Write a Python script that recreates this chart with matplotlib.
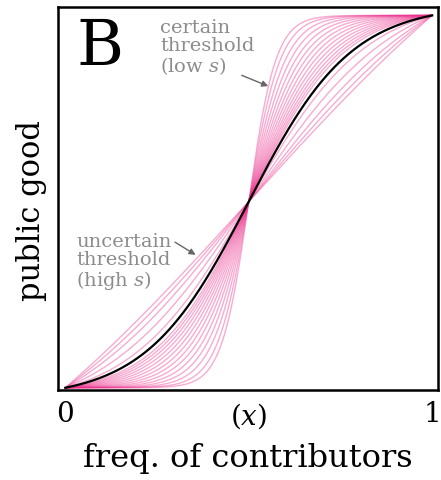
import numpy as np
import matplotlib
matplotlib.use("Agg")
import matplotlib.pyplot as plt

# Threshold position and spread values s of the curve family
threshold = 0.5
spreads = [0.037, 0.043, 0.050, 0.057, 0.064, 0.071, 0.078, 0.085, 0.092,
           0.099, 0.106, 0.113, 0.120, 0.127, 0.160, 0.200, 0.260, 0.340, 0.500]
highlight_spread = 0.14

xtick_pos = [0.0, 0.5, 1.0]
xtick_labels = ["0", r"$(x)$", "1"]


def public_good(x, h, s):
    sig = lambda z: 1.0 / (1.0 + np.exp(-(z - h) / s))
    return (sig(x) - sig(0.0)) / (sig(1.0) - sig(0.0))


plt.rcParams["font.family"] = ["DejaVu Serif"]
plt.rcParams["mathtext.fontset"] = "dejavuserif"

fig = plt.figure(figsize=(4.41, 4.80), dpi=100)
ax = fig.add_axes([0.1315, 0.1875, 0.861, 0.7975])

x = np.linspace(0, 1, 400)
for s in spreads:
    ax.plot(x, public_good(x, threshold, s), color="#ec2f8c",
            alpha=0.4, lw=1.0, solid_capstyle="round")
ax.plot(x, public_good(x, threshold, highlight_spread), color="black", lw=1.6)

ax.set_xlim(-0.02, 1.015)
ax.set_ylim(-0.006, 1.022)
ax.set_xticks(xtick_pos)
ax.set_xticklabels(xtick_labels)
ax.set_yticks([])
ax.tick_params(axis="x", length=0, labelsize=20, pad=8)
for sp in ax.spines.values():
    sp.set_linewidth(1.8)

ax.set_xlabel("freq. of contributors", fontsize=23, labelpad=9)
ax.set_ylabel("public good", fontsize=22)
ax.yaxis.set_label_coords(-0.03, 0.47)

ax.text(0.03, 0.995, "B", fontsize=46, va="top", ha="left")

gray = "#8c8c8c"
arrow_style = dict(arrowstyle="-|>", color="#666666", lw=1.0,
                   shrinkA=0, shrinkB=0, mutation_scale=9)

ax.text(0.258, 0.99, "certain\nthreshold\n(low $s$)", fontsize=14, color=gray,
        va="top", ha="left", linespacing=1.0)
ax.annotate("", xy=(0.553, 0.81), xytext=(0.481, 0.839), arrowprops=arrow_style)

ax.text(0.03, 0.415, "uncertain\nthreshold\n(high $s$)", fontsize=14, color=gray,
        va="top", ha="left", linespacing=1.0)
ax.annotate("", xy=(0.355, 0.357), xytext=(0.299, 0.391), arrowprops=arrow_style)

fig.savefig("out.png", dpi=100)
